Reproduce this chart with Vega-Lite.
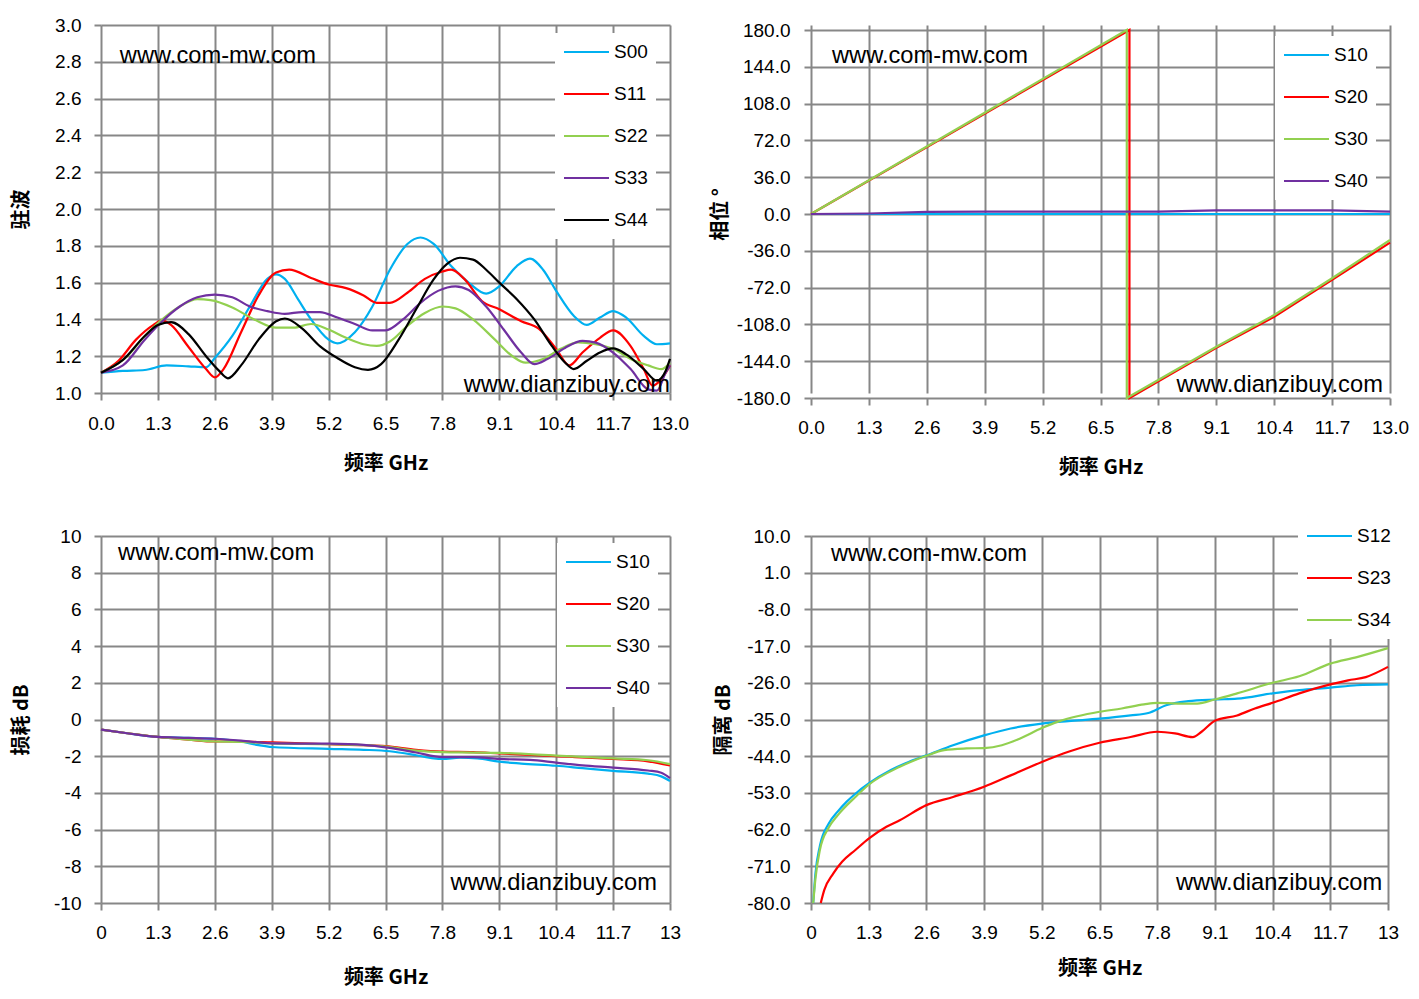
{
  "$schema": "https://vega.github.io/schema/vega-lite/v6.json",
  "background": "white",
  "padding": {"left": 11, "top": 16, "right": 0, "bottom": 10},
  "config": {
    "view": {"stroke": null},
    "axis": {
      "domain": false,
      "gridColor": "#878787",
      "gridWidth": 2,
      "tickColor": "#878787",
      "tickWidth": 2,
      "tickSize": 7,
      "tickCount": 11,
      "labelFont": "Liberation Sans",
      "labelFontSize": 19,
      "labelColor": "black",
      "labelFlush": false,
      "labelOverlap": false,
      "labelPadding": 13,
      "titleFont": "Noto Sans CJK SC",
      "titleFontWeight": "bold",
      "titleFontSize": 20,
      "titleColor": "black"
    },
    "legend": {
      "title": null,
      "orient": "none",
      "direction": "vertical",
      "symbolType": "stroke",
      "symbolSize": 2025,
      "symbolStrokeWidth": 2,
      "labelFont": "Liberation Sans",
      "labelFontSize": 19,
      "labelColor": "black",
      "labelOffset": 4,
      "fillColor": "white",
      "padding": 8,
      "clipHeight": 22,
      "rowPadding": 20
    },
    "text": {"font": "Liberation Sans", "fontSize": 23.7, "color": "black", "baseline": "middle"}
  },
  "datasets": {
    "vswr": [
      {"f": 0, "s": "S00", "v": 1.11}, {"f": 0.5, "s": "S00", "v": 1.12}, {"f": 1.0, "s": "S00", "v": 1.125}, {"f": 1.5, "s": "S00", "v": 1.15}, {"f": 2.0, "s": "S00", "v": 1.145}, {"f": 2.4, "s": "S00", "v": 1.14}, {"f": 2.6, "s": "S00", "v": 1.19}, {"f": 3.0, "s": "S00", "v": 1.31}, {"f": 3.4, "s": "S00", "v": 1.47}, {"f": 3.8, "s": "S00", "v": 1.62}, {"f": 4.0, "s": "S00", "v": 1.645}, {"f": 4.2, "s": "S00", "v": 1.62}, {"f": 4.5, "s": "S00", "v": 1.51}, {"f": 4.8, "s": "S00", "v": 1.4}, {"f": 5.2, "s": "S00", "v": 1.29}, {"f": 5.4, "s": "S00", "v": 1.27}, {"f": 5.8, "s": "S00", "v": 1.33}, {"f": 6.2, "s": "S00", "v": 1.47}, {"f": 6.6, "s": "S00", "v": 1.67}, {"f": 7.0, "s": "S00", "v": 1.81}, {"f": 7.3, "s": "S00", "v": 1.845}, {"f": 7.6, "s": "S00", "v": 1.81}, {"f": 8.0, "s": "S00", "v": 1.69}, {"f": 8.4, "s": "S00", "v": 1.6}, {"f": 8.8, "s": "S00", "v": 1.54}, {"f": 9.1, "s": "S00", "v": 1.58}, {"f": 9.5, "s": "S00", "v": 1.69}, {"f": 9.8, "s": "S00", "v": 1.73}, {"f": 10.1, "s": "S00", "v": 1.67}, {"f": 10.4, "s": "S00", "v": 1.555}, {"f": 10.8, "s": "S00", "v": 1.42}, {"f": 11.1, "s": "S00", "v": 1.37}, {"f": 11.4, "s": "S00", "v": 1.41}, {"f": 11.7, "s": "S00", "v": 1.445}, {"f": 12.0, "s": "S00", "v": 1.41}, {"f": 12.4, "s": "S00", "v": 1.31}, {"f": 12.7, "s": "S00", "v": 1.265}, {"f": 13.0, "s": "S00", "v": 1.27},
      {"f": 0, "s": "S11", "v": 1.11}, {"f": 0.4, "s": "S11", "v": 1.175}, {"f": 0.8, "s": "S11", "v": 1.29}, {"f": 1.2, "s": "S11", "v": 1.37}, {"f": 1.4, "s": "S11", "v": 1.395}, {"f": 1.6, "s": "S11", "v": 1.37}, {"f": 2.0, "s": "S11", "v": 1.25}, {"f": 2.4, "s": "S11", "v": 1.13}, {"f": 2.6, "s": "S11", "v": 1.085}, {"f": 2.8, "s": "S11", "v": 1.13}, {"f": 3.2, "s": "S11", "v": 1.33}, {"f": 3.6, "s": "S11", "v": 1.53}, {"f": 4.0, "s": "S11", "v": 1.655}, {"f": 4.3, "s": "S11", "v": 1.67}, {"f": 4.8, "s": "S11", "v": 1.625}, {"f": 5.2, "s": "S11", "v": 1.59}, {"f": 5.6, "s": "S11", "v": 1.57}, {"f": 6.0, "s": "S11", "v": 1.53}, {"f": 6.3, "s": "S11", "v": 1.49}, {"f": 6.6, "s": "S11", "v": 1.49}, {"f": 7.0, "s": "S11", "v": 1.545}, {"f": 7.4, "s": "S11", "v": 1.62}, {"f": 7.8, "s": "S11", "v": 1.66}, {"f": 8.0, "s": "S11", "v": 1.67}, {"f": 8.3, "s": "S11", "v": 1.62}, {"f": 8.7, "s": "S11", "v": 1.5}, {"f": 9.1, "s": "S11", "v": 1.455}, {"f": 9.6, "s": "S11", "v": 1.39}, {"f": 10.0, "s": "S11", "v": 1.35}, {"f": 10.4, "s": "S11", "v": 1.24}, {"f": 10.7, "s": "S11", "v": 1.15}, {"f": 11.0, "s": "S11", "v": 1.22}, {"f": 11.4, "s": "S11", "v": 1.3}, {"f": 11.7, "s": "S11", "v": 1.34}, {"f": 12.1, "s": "S11", "v": 1.255}, {"f": 12.4, "s": "S11", "v": 1.13}, {"f": 12.6, "s": "S11", "v": 1.04}, {"f": 12.8, "s": "S11", "v": 1.075}, {"f": 13.0, "s": "S11", "v": 1.15},
      {"f": 0, "s": "S22", "v": 1.11}, {"f": 0.6, "s": "S22", "v": 1.2}, {"f": 1.0, "s": "S22", "v": 1.31}, {"f": 1.4, "s": "S22", "v": 1.4}, {"f": 1.8, "s": "S22", "v": 1.47}, {"f": 2.2, "s": "S22", "v": 1.51}, {"f": 2.5, "s": "S22", "v": 1.505}, {"f": 3.0, "s": "S22", "v": 1.465}, {"f": 3.5, "s": "S22", "v": 1.4}, {"f": 4.0, "s": "S22", "v": 1.355}, {"f": 4.4, "s": "S22", "v": 1.355}, {"f": 4.8, "s": "S22", "v": 1.375}, {"f": 5.2, "s": "S22", "v": 1.345}, {"f": 5.6, "s": "S22", "v": 1.3}, {"f": 6.0, "s": "S22", "v": 1.265}, {"f": 6.3, "s": "S22", "v": 1.256}, {"f": 6.6, "s": "S22", "v": 1.28}, {"f": 7.0, "s": "S22", "v": 1.365}, {"f": 7.4, "s": "S22", "v": 1.435}, {"f": 7.8, "s": "S22", "v": 1.47}, {"f": 8.1, "s": "S22", "v": 1.46}, {"f": 8.5, "s": "S22", "v": 1.4}, {"f": 9.0, "s": "S22", "v": 1.29}, {"f": 9.4, "s": "S22", "v": 1.2}, {"f": 9.7, "s": "S22", "v": 1.165}, {"f": 10.1, "s": "S22", "v": 1.185}, {"f": 10.5, "s": "S22", "v": 1.24}, {"f": 10.9, "s": "S22", "v": 1.275}, {"f": 11.3, "s": "S22", "v": 1.265}, {"f": 11.7, "s": "S22", "v": 1.24}, {"f": 12.1, "s": "S22", "v": 1.185}, {"f": 12.5, "s": "S22", "v": 1.15}, {"f": 12.8, "s": "S22", "v": 1.13}, {"f": 13.0, "s": "S22", "v": 1.165},
      {"f": 0, "s": "S33", "v": 1.11}, {"f": 0.5, "s": "S33", "v": 1.15}, {"f": 1.0, "s": "S33", "v": 1.29}, {"f": 1.4, "s": "S33", "v": 1.39}, {"f": 1.8, "s": "S33", "v": 1.47}, {"f": 2.2, "s": "S33", "v": 1.52}, {"f": 2.6, "s": "S33", "v": 1.535}, {"f": 3.0, "s": "S33", "v": 1.52}, {"f": 3.4, "s": "S33", "v": 1.47}, {"f": 3.8, "s": "S33", "v": 1.445}, {"f": 4.2, "s": "S33", "v": 1.43}, {"f": 4.6, "s": "S33", "v": 1.44}, {"f": 5.0, "s": "S33", "v": 1.44}, {"f": 5.4, "s": "S33", "v": 1.41}, {"f": 5.8, "s": "S33", "v": 1.375}, {"f": 6.2, "s": "S33", "v": 1.34}, {"f": 6.5, "s": "S33", "v": 1.34}, {"f": 6.9, "s": "S33", "v": 1.4}, {"f": 7.3, "s": "S33", "v": 1.49}, {"f": 7.7, "s": "S33", "v": 1.555}, {"f": 8.1, "s": "S33", "v": 1.58}, {"f": 8.4, "s": "S33", "v": 1.56}, {"f": 8.8, "s": "S33", "v": 1.47}, {"f": 9.2, "s": "S33", "v": 1.345}, {"f": 9.6, "s": "S33", "v": 1.22}, {"f": 9.9, "s": "S33", "v": 1.157}, {"f": 10.2, "s": "S33", "v": 1.185}, {"f": 10.6, "s": "S33", "v": 1.245}, {"f": 11.0, "s": "S33", "v": 1.283}, {"f": 11.3, "s": "S33", "v": 1.274}, {"f": 11.7, "s": "S33", "v": 1.22}, {"f": 12.1, "s": "S33", "v": 1.13}, {"f": 12.5, "s": "S33", "v": 1.02}, {"f": 12.7, "s": "S33", "v": 1.013}, {"f": 12.9, "s": "S33", "v": 1.11}, {"f": 13.0, "s": "S33", "v": 1.15},
      {"f": 0, "s": "S44", "v": 1.11}, {"f": 0.5, "s": "S44", "v": 1.18}, {"f": 1.0, "s": "S44", "v": 1.31}, {"f": 1.3, "s": "S44", "v": 1.37}, {"f": 1.6, "s": "S44", "v": 1.385}, {"f": 2.0, "s": "S44", "v": 1.32}, {"f": 2.4, "s": "S44", "v": 1.2}, {"f": 2.7, "s": "S44", "v": 1.12}, {"f": 2.9, "s": "S44", "v": 1.08}, {"f": 3.2, "s": "S44", "v": 1.15}, {"f": 3.6, "s": "S44", "v": 1.29}, {"f": 4.0, "s": "S44", "v": 1.39}, {"f": 4.2, "s": "S44", "v": 1.405}, {"f": 4.6, "s": "S44", "v": 1.35}, {"f": 5.0, "s": "S44", "v": 1.255}, {"f": 5.4, "s": "S44", "v": 1.19}, {"f": 5.8, "s": "S44", "v": 1.14}, {"f": 6.1, "s": "S44", "v": 1.126}, {"f": 6.4, "s": "S44", "v": 1.157}, {"f": 6.8, "s": "S44", "v": 1.29}, {"f": 7.2, "s": "S44", "v": 1.455}, {"f": 7.6, "s": "S44", "v": 1.617}, {"f": 7.9, "s": "S44", "v": 1.7}, {"f": 8.2, "s": "S44", "v": 1.735}, {"f": 8.5, "s": "S44", "v": 1.725}, {"f": 8.8, "s": "S44", "v": 1.67}, {"f": 9.1, "s": "S44", "v": 1.6}, {"f": 9.5, "s": "S44", "v": 1.51}, {"f": 9.9, "s": "S44", "v": 1.4}, {"f": 10.3, "s": "S44", "v": 1.256}, {"f": 10.6, "s": "S44", "v": 1.166}, {"f": 10.8, "s": "S44", "v": 1.13}, {"f": 11.1, "s": "S44", "v": 1.175}, {"f": 11.4, "s": "S44", "v": 1.22}, {"f": 11.7, "s": "S44", "v": 1.242}, {"f": 12.0, "s": "S44", "v": 1.21}, {"f": 12.4, "s": "S44", "v": 1.13}, {"f": 12.7, "s": "S44", "v": 1.067}, {"f": 12.9, "s": "S44", "v": 1.12}, {"f": 13.0, "s": "S44", "v": 1.185}
    ],
    "phase": [
      {"f": 0, "s": "S10", "v": 0, "i": 0}, {"f": 13, "s": "S10", "v": 0, "i": 1},
      {"f": 0, "s": "S20", "v": 0, "i": 0}, {"f": 7.15, "s": "S20", "v": 180, "i": 1}, {"f": 7.15, "s": "S20", "v": -180, "i": 2}, {"f": 9.1, "s": "S20", "v": -130.9, "i": 3}, {"f": 10.4, "s": "S20", "v": -100.5, "i": 4}, {"f": 11.7, "s": "S20", "v": -64.5, "i": 5}, {"f": 13, "s": "S20", "v": -28, "i": 6},
      {"f": 0, "s": "S30", "v": 0, "i": 0}, {"f": 7.09, "s": "S30", "v": 180, "i": 1}, {"f": 7.09, "s": "S30", "v": -180, "i": 2}, {"f": 9.1, "s": "S30", "v": -129.8, "i": 3}, {"f": 10.4, "s": "S30", "v": -98.8, "i": 4}, {"f": 11.7, "s": "S30", "v": -62.9, "i": 5}, {"f": 13, "s": "S30", "v": -25.4, "i": 6},
      {"f": 0, "s": "S40", "v": 0, "i": 0}, {"f": 1.3, "s": "S40", "v": 0.5, "i": 1}, {"f": 2.6, "s": "S40", "v": 2.0, "i": 2}, {"f": 3.9, "s": "S40", "v": 2.3, "i": 3}, {"f": 6.5, "s": "S40", "v": 2.3, "i": 4}, {"f": 7.8, "s": "S40", "v": 2.3, "i": 5}, {"f": 9.1, "s": "S40", "v": 3.6, "i": 6}, {"f": 11.7, "s": "S40", "v": 3.6, "i": 7}, {"f": 13, "s": "S40", "v": 2.3, "i": 8}
    ],
    "loss": [
      {"f": 0, "s": "S10", "v": -0.55}, {"f": 0.6, "s": "S10", "v": -0.75}, {"f": 1.3, "s": "S10", "v": -0.95}, {"f": 2.0, "s": "S10", "v": -1.0}, {"f": 2.6, "s": "S10", "v": -1.05}, {"f": 3.2, "s": "S10", "v": -1.2}, {"f": 3.6, "s": "S10", "v": -1.4}, {"f": 3.9, "s": "S10", "v": -1.5}, {"f": 5.2, "s": "S10", "v": -1.6}, {"f": 6.0, "s": "S10", "v": -1.65}, {"f": 6.6, "s": "S10", "v": -1.73}, {"f": 7.2, "s": "S10", "v": -1.95}, {"f": 7.6, "s": "S10", "v": -2.12}, {"f": 7.8, "s": "S10", "v": -2.15}, {"f": 8.2, "s": "S10", "v": -2.08}, {"f": 8.6, "s": "S10", "v": -2.12}, {"f": 9.1, "s": "S10", "v": -2.3}, {"f": 9.6, "s": "S10", "v": -2.4}, {"f": 10.4, "s": "S10", "v": -2.52}, {"f": 11.0, "s": "S10", "v": -2.65}, {"f": 11.7, "s": "S10", "v": -2.8}, {"f": 12.5, "s": "S10", "v": -2.95}, {"f": 12.8, "s": "S10", "v": -3.1}, {"f": 13, "s": "S10", "v": -3.35},
      {"f": 0, "s": "S20", "v": -0.55}, {"f": 0.6, "s": "S20", "v": -0.75}, {"f": 1.3, "s": "S20", "v": -0.95}, {"f": 2.0, "s": "S20", "v": -1.1}, {"f": 2.6, "s": "S20", "v": -1.2}, {"f": 3.2, "s": "S20", "v": -1.2}, {"f": 3.9, "s": "S20", "v": -1.25}, {"f": 5.2, "s": "S20", "v": -1.35}, {"f": 6.0, "s": "S20", "v": -1.4}, {"f": 6.5, "s": "S20", "v": -1.45}, {"f": 7.2, "s": "S20", "v": -1.65}, {"f": 7.8, "s": "S20", "v": -1.75}, {"f": 8.5, "s": "S20", "v": -1.78}, {"f": 9.1, "s": "S20", "v": -1.85}, {"f": 10.4, "s": "S20", "v": -2.0}, {"f": 11.7, "s": "S20", "v": -2.15}, {"f": 12.5, "s": "S20", "v": -2.28}, {"f": 13, "s": "S20", "v": -2.5},
      {"f": 0, "s": "S30", "v": -0.55}, {"f": 0.6, "s": "S30", "v": -0.75}, {"f": 1.3, "s": "S30", "v": -0.95}, {"f": 2.0, "s": "S30", "v": -1.1}, {"f": 2.6, "s": "S30", "v": -1.2}, {"f": 3.2, "s": "S30", "v": -1.22}, {"f": 3.9, "s": "S30", "v": -1.3}, {"f": 5.2, "s": "S30", "v": -1.35}, {"f": 6.0, "s": "S30", "v": -1.4}, {"f": 6.5, "s": "S30", "v": -1.48}, {"f": 7.2, "s": "S30", "v": -1.7}, {"f": 7.8, "s": "S30", "v": -1.78}, {"f": 8.5, "s": "S30", "v": -1.8}, {"f": 9.1, "s": "S30", "v": -1.82}, {"f": 10.4, "s": "S30", "v": -1.97}, {"f": 11.7, "s": "S30", "v": -2.12}, {"f": 12.5, "s": "S30", "v": -2.22}, {"f": 13, "s": "S30", "v": -2.43},
      {"f": 0, "s": "S40", "v": -0.55}, {"f": 0.6, "s": "S40", "v": -0.75}, {"f": 1.3, "s": "S40", "v": -0.95}, {"f": 2.0, "s": "S40", "v": -1.0}, {"f": 2.6, "s": "S40", "v": -1.05}, {"f": 3.2, "s": "S40", "v": -1.15}, {"f": 3.9, "s": "S40", "v": -1.3}, {"f": 5.2, "s": "S40", "v": -1.32}, {"f": 6.0, "s": "S40", "v": -1.38}, {"f": 6.6, "s": "S40", "v": -1.55}, {"f": 7.2, "s": "S40", "v": -1.8}, {"f": 7.8, "s": "S40", "v": -2.05}, {"f": 8.5, "s": "S40", "v": -2.05}, {"f": 9.1, "s": "S40", "v": -2.15}, {"f": 9.8, "s": "S40", "v": -2.2}, {"f": 10.4, "s": "S40", "v": -2.35}, {"f": 11.0, "s": "S40", "v": -2.5}, {"f": 11.7, "s": "S40", "v": -2.62}, {"f": 12.5, "s": "S40", "v": -2.78}, {"f": 12.8, "s": "S40", "v": -2.9}, {"f": 13, "s": "S40", "v": -3.2}
    ],
    "iso": [
      {"f": 0.05, "s": "S12", "v": -80}, {"f": 0.1, "s": "S12", "v": -72.8}, {"f": 0.2, "s": "S12", "v": -66}, {"f": 0.4, "s": "S12", "v": -60.5}, {"f": 0.6, "s": "S12", "v": -57.6}, {"f": 0.8, "s": "S12", "v": -55.2}, {"f": 1.0, "s": "S12", "v": -53.2}, {"f": 1.3, "s": "S12", "v": -50.7}, {"f": 1.8, "s": "S12", "v": -47.4}, {"f": 2.2, "s": "S12", "v": -45.4}, {"f": 2.6, "s": "S12", "v": -43.8}, {"f": 3.2, "s": "S12", "v": -41.3}, {"f": 3.9, "s": "S12", "v": -38.9}, {"f": 4.5, "s": "S12", "v": -37.2}, {"f": 5.2, "s": "S12", "v": -36.0}, {"f": 5.8, "s": "S12", "v": -35.4}, {"f": 6.5, "s": "S12", "v": -34.8}, {"f": 7.2, "s": "S12", "v": -34.0}, {"f": 7.6, "s": "S12", "v": -33.4}, {"f": 8.0, "s": "S12", "v": -31.5}, {"f": 8.5, "s": "S12", "v": -30.5}, {"f": 9.1, "s": "S12", "v": -30.1}, {"f": 9.6, "s": "S12", "v": -29.9}, {"f": 10.4, "s": "S12", "v": -28.6}, {"f": 11.0, "s": "S12", "v": -27.8}, {"f": 11.7, "s": "S12", "v": -27.2}, {"f": 12.3, "s": "S12", "v": -26.6}, {"f": 13, "s": "S12", "v": -26.4},
      {"f": 0.22, "s": "S23", "v": -80}, {"f": 0.3, "s": "S23", "v": -76.8}, {"f": 0.5, "s": "S23", "v": -72.8}, {"f": 0.7, "s": "S23", "v": -69.9}, {"f": 1.0, "s": "S23", "v": -67}, {"f": 1.3, "s": "S23", "v": -64.2}, {"f": 1.7, "s": "S23", "v": -61.3}, {"f": 2.0, "s": "S23", "v": -59.7}, {"f": 2.6, "s": "S23", "v": -56}, {"f": 3.2, "s": "S23", "v": -54}, {"f": 3.9, "s": "S23", "v": -51.5}, {"f": 4.5, "s": "S23", "v": -48.7}, {"f": 5.2, "s": "S23", "v": -45.4}, {"f": 5.8, "s": "S23", "v": -42.9}, {"f": 6.5, "s": "S23", "v": -40.7}, {"f": 7.2, "s": "S23", "v": -39.3}, {"f": 7.8, "s": "S23", "v": -38.0}, {"f": 8.2, "s": "S23", "v": -38.4}, {"f": 8.6, "s": "S23", "v": -39.3}, {"f": 8.8, "s": "S23", "v": -38.0}, {"f": 9.1, "s": "S23", "v": -35.3}, {"f": 9.6, "s": "S23", "v": -34}, {"f": 10.0, "s": "S23", "v": -32.3}, {"f": 10.4, "s": "S23", "v": -30.9}, {"f": 11.0, "s": "S23", "v": -28.6}, {"f": 11.7, "s": "S23", "v": -26.4}, {"f": 12.1, "s": "S23", "v": -25.4}, {"f": 12.5, "s": "S23", "v": -24.6}, {"f": 13, "s": "S23", "v": -22.1},
      {"f": 0.05, "s": "S34", "v": -80}, {"f": 0.1, "s": "S34", "v": -74}, {"f": 0.2, "s": "S34", "v": -67}, {"f": 0.4, "s": "S34", "v": -61.5}, {"f": 0.6, "s": "S34", "v": -58.5}, {"f": 1.0, "s": "S34", "v": -54}, {"f": 1.3, "s": "S34", "v": -51}, {"f": 2.0, "s": "S34", "v": -46.6}, {"f": 2.6, "s": "S34", "v": -43.9}, {"f": 3.0, "s": "S34", "v": -42.5}, {"f": 3.5, "s": "S34", "v": -42.1}, {"f": 3.9, "s": "S34", "v": -42.0}, {"f": 4.3, "s": "S34", "v": -41.3}, {"f": 4.7, "s": "S34", "v": -39.7}, {"f": 5.2, "s": "S34", "v": -37.1}, {"f": 5.6, "s": "S34", "v": -35.4}, {"f": 6.0, "s": "S34", "v": -34.2}, {"f": 6.5, "s": "S34", "v": -33.1}, {"f": 7.0, "s": "S34", "v": -32.3}, {"f": 7.5, "s": "S34", "v": -31.3}, {"f": 7.8, "s": "S34", "v": -30.9}, {"f": 8.3, "s": "S34", "v": -31.1}, {"f": 8.7, "s": "S34", "v": -31.1}, {"f": 9.1, "s": "S34", "v": -30.1}, {"f": 9.6, "s": "S34", "v": -28.6}, {"f": 10.4, "s": "S34", "v": -26.0}, {"f": 11.0, "s": "S34", "v": -24.4}, {"f": 11.7, "s": "S34", "v": -21.3}, {"f": 12.3, "s": "S34", "v": -19.7}, {"f": 13, "s": "S34", "v": -17.5}
    ]
  },
  "hconcat": [
    {
      "spacing": 54,
      "vconcat": [
        {
          "width": 569,
          "height": 368,
          "layer": [
            {
              "data": {"name": "vswr"},
              "mark": {"type": "line", "strokeWidth": 2.2, "interpolate": "monotone"},
              "encoding": {
                "x": {"field": "f", "type": "quantitative", "scale": {"domain": [0, 13], "nice": false},
                  "axis": {"values": [0, 1.3, 2.6, 3.9, 5.2, 6.5, 7.8, 9.1, 10.4, 11.7, 13], "format": ".1f", "title": "频率 GHz", "labelPadding": 14, "titlePadding": 20}},
                "y": {"field": "v", "type": "quantitative", "scale": {"domain": [1, 3], "nice": false, "zero": false},
                  "axis": {"values": [1, 1.2, 1.4, 1.6, 1.8, 2, 2.2, 2.4, 2.6, 2.8, 3], "format": ".1f", "title": "驻波", "titlePadding": 23}},
                "color": {"field": "s", "type": "nominal",
                  "scale": {"domain": ["S00", "S11", "S22", "S33", "S44"], "range": ["#00B0F0", "#FF0000", "#92D050", "#7030A0", "#000000"]},
                  "legend": {"legendX": 454, "legendY": 8}}
              }
            },
            {
              "data": {"values": [{}]},
              "mark": {"type": "text", "align": "left"},
              "encoding": {"x": {"datum": 0.43}, "y": {"datum": 2.83}, "text": {"value": "www.com-mw.com"}}
            },
            {
              "data": {"values": [{}]},
              "mark": {"type": "text", "align": "right"},
              "encoding": {"x": {"datum": 13}, "y": {"datum": 1.043}, "text": {"value": "www.dianzibuy.com"}}
            }
          ]
        },
        {
          "width": 569,
          "height": 367,
          "layer": [
            {
              "data": {"name": "loss"},
              "mark": {"type": "line", "strokeWidth": 2.2, "interpolate": "monotone"},
              "encoding": {
                "x": {"field": "f", "type": "quantitative", "scale": {"domain": [0, 13], "nice": false},
                  "axis": {"values": [0, 1.3, 2.6, 3.9, 5.2, 6.5, 7.8, 9.1, 10.4, 11.7, 13], "format": ".3~g", "title": "频率 GHz", "labelPadding": 13, "titlePadding": 25}},
                "y": {"field": "v", "type": "quantitative", "scale": {"domain": [-10, 10], "nice": false, "zero": false},
                  "axis": {"values": [-10, -8, -6, -4, -2, 0, 2, 4, 6, 8, 10], "format": "d", "labelExpr": "replace(datum.label, '−', '-')", "title": "损耗 dB", "titlePadding": 22}},
                "color": {"field": "s", "type": "nominal",
                  "scale": {"domain": ["S10", "S20", "S30", "S40"], "range": ["#00B0F0", "#FF0000", "#92D050", "#7030A0"]},
                  "legend": {"legendX": 456, "legendY": 7}}
              }
            },
            {
              "data": {"values": [{}]},
              "mark": {"type": "text", "align": "left"},
              "encoding": {"x": {"datum": 0.39}, "y": {"datum": 9.07}, "text": {"value": "www.com-mw.com"}}
            },
            {
              "data": {"values": [{}]},
              "mark": {"type": "text", "align": "right"},
              "encoding": {"x": {"datum": 12.7}, "y": {"datum": -8.9}, "text": {"value": "www.dianzibuy.com"}}
            }
          ]
        }
      ],
      "resolve": {"scale": {"color": "independent"}, "legend": {"color": "independent"}}
    },
    {
      "spacing": 40,
      "vconcat": [
        {
          "width": 579,
          "height": 373,
          "layer": [
            {
              "data": {"name": "phase"},
              "mark": {"type": "line", "strokeWidth": 2.2},
              "encoding": {
                "x": {"field": "f", "type": "quantitative", "scale": {"domain": [0, 13], "nice": false},
                  "axis": {"values": [0, 1.3, 2.6, 3.9, 5.2, 6.5, 7.8, 9.1, 10.4, 11.7, 13], "format": ".1f", "title": "频率 GHz", "labelPadding": 13, "titlePadding": 20}},
                "y": {"field": "v", "type": "quantitative", "scale": {"domain": [-180, 180], "range": [373, 5], "nice": false, "zero": false},
                  "axis": {"values": [-180, -144, -108, -72, -36, 0, 36, 72, 108, 144, 180], "format": ".1f", "labelExpr": "replace(datum.label, '−', '-')", "labelPadding": 14, "title": "相位 °", "titlePadding": 6}},
                "order": {"field": "i", "type": "quantitative"},
                "color": {"field": "s", "type": "nominal",
                  "scale": {"domain": ["S10", "S20", "S30", "S40"], "range": ["#00B0F0", "#FF0000", "#92D050", "#7030A0"]},
                  "legend": {"legendX": 464, "legendY": 11}}
              }
            },
            {
              "data": {"values": [{}]},
              "mark": {"type": "text", "align": "left"},
              "encoding": {"x": {"datum": 0.47}, "y": {"datum": 154.6}, "text": {"value": "www.com-mw.com"}}
            },
            {
              "data": {"values": [{}]},
              "mark": {"type": "text", "align": "right"},
              "encoding": {"x": {"datum": 12.84}, "y": {"datum": -167.4}, "text": {"value": "www.dianzibuy.com"}}
            }
          ]
        },
        {
          "width": 577,
          "height": 367,
          "layer": [
            {
              "data": {"name": "iso"},
              "mark": {"type": "line", "strokeWidth": 2.2, "interpolate": "monotone"},
              "encoding": {
                "x": {"field": "f", "type": "quantitative", "scale": {"domain": [0, 13], "nice": false},
                  "axis": {"values": [0, 1.3, 2.6, 3.9, 5.2, 6.5, 7.8, 9.1, 10.4, 11.7, 13], "format": ".3~g", "title": "频率 GHz", "labelPadding": 13, "titlePadding": 16}},
                "y": {"field": "v", "type": "quantitative", "scale": {"domain": [-80, 10], "nice": false, "zero": false},
                  "axis": {"values": [-80, -71, -62, -53, -44, -35, -26, -17, -8, 1, 10], "format": ".1f", "labelExpr": "replace(datum.label, '−', '-')", "labelPadding": 14, "title": "隔离 dB", "titlePadding": 13}},
                "color": {"field": "s", "type": "nominal",
                  "scale": {"domain": ["S12", "S23", "S34"], "range": ["#00B0F0", "#FF0000", "#92D050"]},
                  "legend": {"legendX": 487, "legendY": -19}}
              }
            },
            {
              "data": {"values": [{}]},
              "mark": {"type": "text", "align": "left"},
              "encoding": {"x": {"datum": 0.45}, "y": {"datum": 5.6}, "text": {"value": "www.com-mw.com"}}
            },
            {
              "data": {"values": [{}]},
              "mark": {"type": "text", "align": "right"},
              "encoding": {"x": {"datum": 12.87}, "y": {"datum": -75.1}, "text": {"value": "www.dianzibuy.com"}}
            }
          ]
        }
      ],
      "resolve": {"scale": {"color": "independent"}, "legend": {"color": "independent"}}
    }
  ],
  "spacing": 21,
  "resolve": {"scale": {"color": "independent"}, "legend": {"color": "independent"}}
}
